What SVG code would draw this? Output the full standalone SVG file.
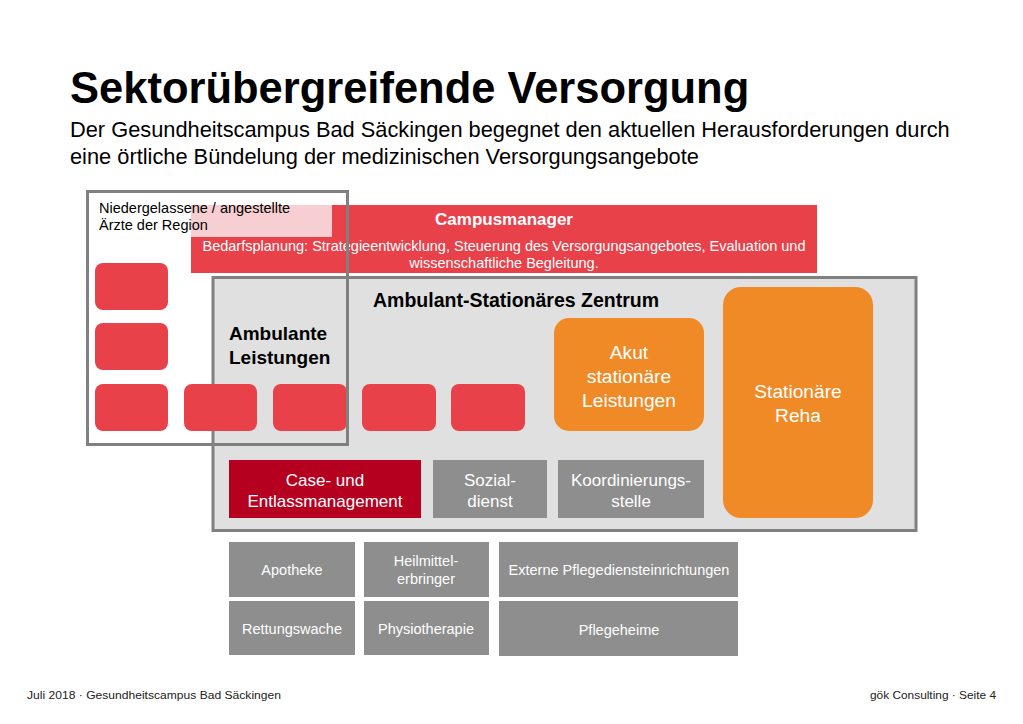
<svg xmlns="http://www.w3.org/2000/svg" width="1023" height="724" viewBox="0 0 1023 724">
<style>
text{font-family:"Liberation Sans",Arial,sans-serif}
.red{fill:#e8414a}
.sq{fill:#e8414a}
.or{fill:#f08a26}
.gb{fill:#8e8e8e}
.w{fill:#fff}
.c{text-anchor:middle}
.b{font-weight:bold}
.t17{font-size:17px}
.t19{font-size:19.2px}
.t14{font-size:14.5px}
</style>
<rect width="1023" height="724" fill="#fff"/>
<g id="title">
<text x="70" y="103" font-size="43.5" class="b" fill="#000">Sektorübergreifende Versorgung</text>
<text x="70" y="137" font-size="21.8" fill="#000">Der Gesundheitscampus Bad Säckingen begegnet den aktuellen Herausforderungen durch</text>
<text x="70" y="164" font-size="21.8" fill="#000">eine örtliche Bündelung der medizinischen Versorgungsangebote</text>
</g>
<g id="campusmanager">
<rect x="191" y="205" width="626" height="68" class="red"/>
<rect x="191" y="205" width="141" height="32" fill="#f7ced1"/>
<text x="504" y="225" font-size="17" class="w c b">Campusmanager</text>
<text x="504" y="251" class="w c t14">Bedarfsplanung: Strategieentwicklung, Steuerung des Versorgungsangebotes, Evaluation und</text>
<text x="504" y="268" class="w c t14">wissenschaftliche Begleitung.</text>
</g>
<g id="zentrum">
<rect x="213" y="277.5" width="703" height="253" fill="#e0e0e0" stroke="#808080" stroke-width="3"/>
<text x="516" y="307" font-size="19.5" class="b c" fill="#000">Ambulant-Stationäres Zentrum</text>
<text x="229" y="340" font-size="19" class="b" fill="#000">Ambulante</text>
<text x="229" y="364" font-size="19" class="b" fill="#000">Leistungen</text>
</g>
<g id="akut">
<rect x="554" y="318" width="150" height="113" rx="15" class="or"/>
<text x="629" y="359" class="w c t19">Akut</text>
<text x="629" y="383" class="w c t19">stationäre</text>
<text x="629" y="407" class="w c t19">Leistungen</text>
</g>
<g id="reha">
<rect x="723" y="287" width="150" height="231" rx="18" class="or"/>
<text x="798" y="398" class="w c t19">Stationäre</text>
<text x="798" y="422" class="w c t19">Reha</text>
</g>
<g id="case">
<rect x="229" y="460" width="192" height="58" fill="#b5001f"/>
<text x="325" y="486" class="w c t17">Case- und</text>
<text x="325" y="507" class="w c t17">Entlassmanagement</text>
</g>
<g id="sozial">
<rect x="433" y="460" width="114" height="58" class="gb"/>
<text x="490" y="486" class="w c t17">Sozial-</text>
<text x="490" y="507" class="w c t17">dienst</text>
</g>
<g id="koord">
<rect x="558" y="460" width="146" height="58" class="gb"/>
<text x="631" y="486" class="w c t17">Koordinierungs-</text>
<text x="631" y="507" class="w c t17">stelle</text>
</g>
<g id="aerzte">
<rect x="95" y="263" width="73" height="47" rx="8" class="sq"/>
<rect x="95" y="323" width="73" height="47" rx="8" class="sq"/>
<rect x="95" y="384" width="73" height="47" rx="8" class="sq"/>
<rect x="184" y="384" width="73" height="47" rx="8" class="sq"/>
<rect x="273" y="384" width="74" height="47" rx="8" class="sq"/>
<rect x="362" y="384" width="74" height="47" rx="8" class="sq"/>
<rect x="451" y="384" width="74" height="47" rx="8" class="sq"/>
<rect x="87.5" y="191.5" width="260" height="253" fill="none" stroke="#808080" stroke-width="3"/>
<text x="99" y="213" class="t14" fill="#000">Niedergelassene / angestellte</text>
<text x="99" y="230" class="t14" fill="#000">Ärzte der Region</text>
</g>
<g id="apotheke">
<rect x="229" y="542" width="126" height="55" class="gb"/>
<text x="292" y="575" class="w c t14">Apotheke</text>
</g>
<g id="heilmittel">
<rect x="364" y="542" width="125" height="55" class="gb"/>
<text x="426" y="566" class="w c t14">Heilmittel-</text>
<text x="426" y="584" class="w c t14">erbringer</text>
</g>
<g id="externe">
<rect x="499" y="542" width="239" height="55" class="gb"/>
<text x="619" y="575" class="w c t14">Externe Pflegediensteinrichtungen</text>
</g>
<g id="rettung">
<rect x="229" y="601" width="126" height="54" class="gb"/>
<text x="292" y="634" class="w c t14">Rettungswache</text>
</g>
<g id="physio">
<rect x="364" y="601" width="125" height="54" class="gb"/>
<text x="426" y="634" class="w c t14">Physiotherapie</text>
</g>
<g id="pflegeheime">
<rect x="499" y="601" width="239" height="55" class="gb"/>
<text x="619" y="635" class="w c t14">Pflegeheime</text>
</g>
<g id="connectors"></g>
<g id="footer">
<text x="27" y="699" font-size="11.5" fill="#222" textLength="254" lengthAdjust="spacingAndGlyphs">Juli 2018 · Gesundheitscampus Bad Säckingen</text>
<text x="996" y="699" font-size="11.5" fill="#222" text-anchor="end" textLength="126" lengthAdjust="spacingAndGlyphs">gök Consulting · Seite 4</text>
</g>
</svg>
